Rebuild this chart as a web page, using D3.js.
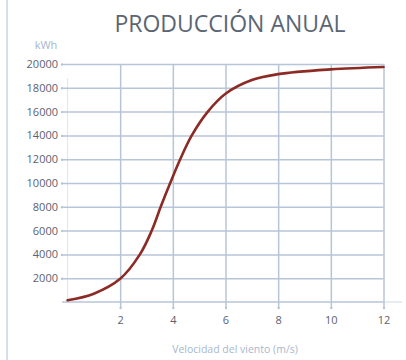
<!DOCTYPE html>
<html>
<head>
<meta charset="utf-8">
<script src="https://cdn.jsdelivr.net/npm/d3@7"></script>
<style>
  html, body { margin: 0; padding: 0; background: #ffffff; }
  svg { display: block; }
</style>
</head>
<body>
<svg id="chart" width="406" height="360"></svg>
<script>
// Wind speed (m/s) and annual energy production (kWh)
const windSpeed = [0, 1, 2, 2.75, 3.2, 3.54, 3.9, 4.28, 4.72, 5.33, 6, 7, 8, 10, 12];
const production = [150, 700, 1950, 4000, 6000, 8000, 10000, 12000, 14000, 16000, 17500, 18650, 19150, 19550, 19750];
const xTicks = [2, 4, 6, 8, 10, 12];
const yTicks = [2000, 4000, 6000, 8000, 10000, 12000, 14000, 16000, 18000, 20000];

const svg = d3.select("#chart");
const gridColor = "#b7c5d8";
const font = "'Open Sans', 'Noto Sans', sans-serif";

const x = d3.scaleLinear().domain([0, 12]).range([67.5, 383.5]);
const y = d3.scaleLinear().domain([0, 20000]).range([302, 64]);

// left frame edge
svg.append("line")
  .attr("x1", 7).attr("x2", 7).attr("y1", 0).attr("y2", 360)
  .attr("stroke", "#c9d3df").attr("stroke-width", 1.5);

// title
svg.append("text")
  .attr("x", 230).attr("y", 32)
  .attr("text-anchor", "middle")
  .attr("font-family", font)
  .attr("font-size", 23)
  .attr("font-weight", 400)
  .attr("fill", "#5a6674")
  .text("PRODUCCIÓN ANUAL");

// unit label
svg.append("text")
  .attr("x", 46).attr("y", 49)
  .attr("text-anchor", "middle")
  .attr("font-family", font)
  .attr("font-size", 11)
  .attr("fill", "#a7b6cb")
  .text("kWh");

// faint vertical axis line
svg.append("line")
  .attr("x1", x(0)).attr("x2", x(0)).attr("y1", 78).attr("y2", y(0))
  .attr("stroke", "#e3e8ef").attr("stroke-width", 1.2);

// baseline extension
svg.append("line")
  .attr("x1", x(12)).attr("x2", 402).attr("y1", y(0)).attr("y2", y(0))
  .attr("stroke", "#dfe5ee").attr("stroke-width", 1.5);

// horizontal grid lines with y axis
const yAxis = d3.axisLeft(y)
  .tickValues(yTicks)
  .tickSize(-(x(12) - 62))
  .tickPadding(4)
  .tickFormat(d3.format("d"));

const gy = svg.append("g")
  .attr("transform", `translate(62,0)`)
  .call(yAxis);
gy.select(".domain").remove();
gy.selectAll(".tick line")
  .attr("stroke", gridColor).attr("stroke-width", 1.5);
gy.selectAll(".tick text")
  .attr("font-family", font).attr("font-size", 11)
  .attr("fill", "#5b6270");
gy.selectAll(".tick").append("circle")
  .attr("r", 1.2).attr("fill", gridColor);

// baseline
svg.append("line")
  .attr("x1", 62).attr("x2", x(12)).attr("y1", y(0)).attr("y2", y(0))
  .attr("stroke", gridColor).attr("stroke-width", 1.5);

// vertical grid lines with x axis
const xAxis = d3.axisBottom(x)
  .tickValues(xTicks)
  .tickSize(-(308 - y(20000)))
  .tickPadding(8);

const gx = svg.append("g")
  .attr("transform", `translate(0,308)`)
  .call(xAxis);
gx.select(".domain").remove();
gx.selectAll(".tick line")
  .attr("stroke", gridColor).attr("stroke-width", 1.5);
gx.selectAll(".tick text")
  .attr("font-family", font).attr("font-size", 11)
  .attr("fill", "#5b6270");
gx.selectAll(".tick").append("circle")
  .attr("r", 1.2).attr("fill", gridColor);

// axis title
svg.append("text")
  .attr("x", 235).attr("y", 353)
  .attr("text-anchor", "middle")
  .attr("font-family", font)
  .attr("font-size", 10.5)
  .attr("fill", "#a9b8cc")
  .text("Velocidad del viento (m/s)");

// power curve
const line = d3.line()
  .x((d, i) => x(windSpeed[i]))
  .y(d => y(d))
  .curve(d3.curveCatmullRom.alpha(0.5));

svg.append("path")
  .datum(production)
  .attr("d", line)
  .attr("fill", "none")
  .attr("stroke", "#8c2b25")
  .attr("stroke-width", 2.6)
  .attr("stroke-linecap", "round");
</script>
</body>
</html>
